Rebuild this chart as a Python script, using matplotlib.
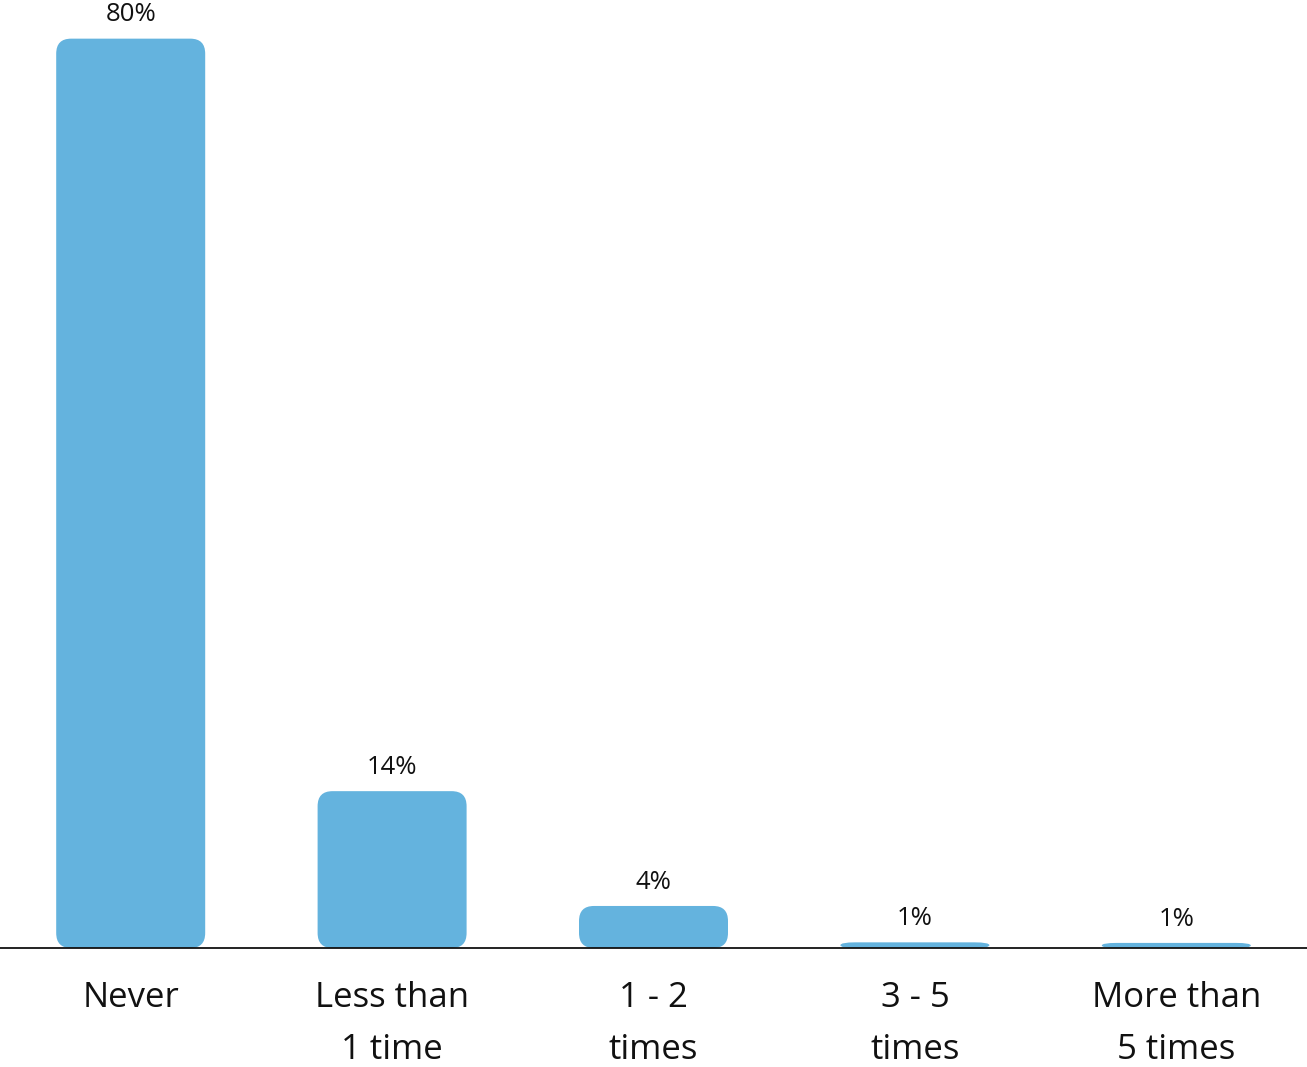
import matplotlib
matplotlib.use("Agg")
import matplotlib.pyplot as plt
from matplotlib.patches import FancyBboxPatch

categories = ["Never", "Less than\n1 time", "1 - 2\ntimes", "3 - 5\ntimes", "More than\n5 times"]
values = [80, 13.8, 3.7, 0.5, 0.45]
value_labels = ["80%", "14%", "4%", "1%", "1%"]

bar_color = "#64b3de"
plt.rcParams["font.family"] = ["Open Sans", "DejaVu Sans"]

fig = plt.figure(figsize=(13.07, 10.67), dpi=100)
ax = fig.add_axes([0, 0.1115, 1, 0.8885])

bars = ax.bar(range(len(values)), values, width=0.57, color=bar_color)
ax.set_xlim(-0.5, len(values) - 0.5)
ax.set_ylim(0, 83.4)

# swap plain rectangles for rounded ones
rx = 0.057
for rect in bars:
    x, y = rect.get_x(), rect.get_y()
    w, h = rect.get_width(), rect.get_height()
    ry = min(1.32, h / 2)
    rect.set_visible(False)
    patch = FancyBboxPatch((x, y), w, h,
                           boxstyle=f"round,pad=0,rounding_size={rx}",
                           mutation_aspect=ry / rx,
                           facecolor=bar_color, edgecolor="none")
    ax.add_patch(patch)

for i, (v, lab) in enumerate(zip(values, value_labels)):
    ax.annotate(lab, (i, v), xytext=(0, 12.5), textcoords="offset points",
                ha="center", va="baseline", fontsize=18.5, color="#111111")

ax.set_xticks(range(len(categories)))
ax.set_xticklabels(categories, fontsize=25, color="#111111", linespacing=1.7)
ax.tick_params(axis="x", length=0, pad=23.5)
ax.set_yticks([])
for side in ["top", "left", "right"]:
    ax.spines[side].set_visible(False)
ax.spines["bottom"].set_linewidth(1.3)
ax.spines["bottom"].set_color("#111111")

fig.savefig("out.png", dpi=100)
